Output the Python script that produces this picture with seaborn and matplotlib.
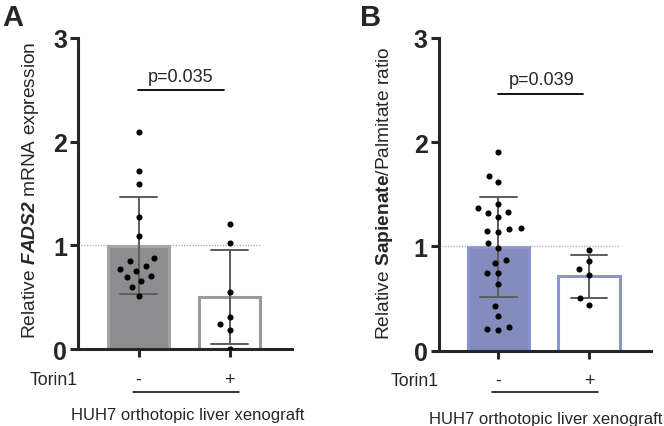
import numpy as np
import pandas as pd
import seaborn as sns
import matplotlib.pyplot as plt

# ---------------- DATA ---------------- #

torin_levels = ["-", "+"]

# panel A: relative FADS2 mRNA expression
fads2_ctrl = [2.09, 1.72, 1.59, 1.27, 1.09, 0.875, 0.845, 0.80, 0.77,
              0.755, 0.70, 0.69, 0.66, 0.595, 0.51]
fads2_torin = [1.205, 1.02, 0.55, 0.31, 0.24, 0.18, 0.0]

# panel B: relative sapienate/palmitate ratio
sap_ctrl = [1.91, 1.68, 1.62, 1.41, 1.37, 1.33, 1.32, 1.28, 1.18, 1.17,
            1.15, 1.14, 1.035, 0.985, 0.872, 0.843, 0.75, 0.744, 0.64,
            0.43, 0.33, 0.23, 0.21, 0.20]
sap_torin = [0.968, 0.856, 0.786, 0.731, 0.504, 0.442]

p_fads2 = "p=0.035"
p_sap = "p=0.039"

# ---------------- STYLE ---------------- #

sns.set_style("ticks")
plt.rcParams["font.family"] = ["Liberation Sans", "DejaVu Sans"]
plt.rcParams["mathtext.fontset"] = "custom"
plt.rcParams["mathtext.rm"] = "Liberation Sans"
plt.rcParams["mathtext.it"] = "Liberation Sans:italic"
plt.rcParams["mathtext.bf"] = "Liberation Sans:bold"
plt.rcParams["mathtext.bfit"] = "Liberation Sans:italic:bold"

BAR_W = 0.68
LW = 2.2


def draw_panel(ax, ctrl, torin, fill, edges, ylabel, pval, lab_xy,
               xlim, pos):
    """Bar (mean +/- SD) with swarm of individual points."""
    df = pd.DataFrame({
        "torin": ["-"] * len(ctrl) + ["+"] * len(torin),
        "value": list(ctrl) + list(torin),
    })

    sns.barplot(data=df, x="torin", y="value", hue="torin",
                order=torin_levels, hue_order=torin_levels,
                palette=[fill, "white"], errorbar="sd", capsize=0.4,
                width=BAR_W, legend=False,
                err_kws={"color": "#5c5c5c", "linewidth": 1.4}, ax=ax)
    for patch, ec in zip(ax.patches, edges):
        patch.set_edgecolor(ec)
        patch.set_linewidth(LW)

    ax.hlines(1, xlim[0], 1 + BAR_W / 2, colors="#b5b5b5",
              linestyles=(0, (1, 1)), linewidth=1.0, zorder=1.5)

    # transparent thick edge spreads the swarm like a prism scatter
    sns.swarmplot(data=df, x="torin", y="value", order=torin_levels,
                  color="black", size=4.4, linewidth=3.4,
                  edgecolor=(0, 0, 0, 0), zorder=3, ax=ax)

    ax.set_ylim(0, 3)
    ax.set_xlim(*xlim)
    ax.set_yticks([0, 1, 2, 3])
    ax.set_xticks([0, 1])
    ax.set_xticklabels([])
    ax.set_xlabel("")
    sns.despine(ax=ax)
    for side in ("left", "bottom"):
        ax.spines[side].set_linewidth(LW)
    ax.tick_params(width=LW, length=6, labelsize=18, pad=2)
    for t in ax.get_yticklabels():
        t.set_fontweight("bold")

    ax.set_ylabel(ylabel, fontsize=13.8)
    ax.yaxis.set_label_coords(*lab_xy)

    # significance bracket
    ax.text(pos["p_x"], pos["p_y"], pval, transform=ax.get_yaxis_transform(),
            ha="center", va="center", fontsize=13)
    ax.plot(pos["br_x"], [pos["br_y"]] * 2, color="black", linewidth=1.3,
            transform=ax.get_yaxis_transform(), clip_on=False)

    # treatment annotation under the axis
    xt = ax.get_xaxis_transform()
    for i, lev in enumerate(torin_levels):
        ax.text(i, pos["lev_y"], lev, transform=xt, ha="center",
                va="center", fontsize=13)
    ax.text(pos["tor_x"], pos["lev_y"], "Torin1", transform=ax.transAxes,
            ha="center", va="center", fontsize=12.7)
    ax.plot(pos["ul_x"], [pos["ul_y"]] * 2, color="black", linewidth=1.1,
            transform=ax.transAxes, clip_on=False)
    ax.text(pos["huh_x"], pos["huh_y"], "HUH7 orthotopic liver xenograft",
            transform=ax.transAxes, ha="center", va="center", fontsize=12)


fig = plt.figure(figsize=(6.64, 4.27), dpi=100)
axA = fig.add_axes([0.1175, 0.1803, 0.3223, 0.7284])
axB = fig.add_axes([0.661, 0.1763, 0.3194, 0.7324])

draw_panel(
    axA, fads2_ctrl, fads2_torin, "#8c8c90", ["#a3a3a6", "#9a9a9a"],
    r"Relative $\mathbfit{FADS2}$ mRNA expression", p_fads2,
    (-0.173, 0.514), (-0.665, 1.687),
    {"p_x": 0.481, "p_y": 2.63, "br_x": [0.28, 0.682], "br_y": 2.50,
     "lev_y": -0.0965, "tor_x": -0.112, "ul_x": [0.257, 0.752],
     "ul_y": -0.138, "huh_x": 0.514, "huh_y": -0.209},
)
draw_panel(
    axB, sap_ctrl, sap_torin, "#7b84c6", ["#8a92d3", "#8a92d8"],
    r"Relative $\mathbf{Sapienate}$/Palmitate ratio", p_sap,
    (-0.2075, 0.506), (-0.657, 1.685),
    {"p_x": 0.4835, "p_y": 2.60, "br_x": [0.278, 0.679], "br_y": 2.46,
     "lev_y": -0.096, "tor_x": -0.113, "ul_x": [0.25, 0.75],
     "ul_y": -0.132, "huh_x": 0.502, "huh_y": -0.218},
)

# panel letters
fig.text(2 / 664, 1 - 4 / 427, "A", fontsize=21, fontweight="bold",
         ha="left", va="top")
fig.text(360 / 664, 1 - 4 / 427, "B", fontsize=21, fontweight="bold",
         ha="left", va="top")

fig.savefig("out.png", dpi=100)
